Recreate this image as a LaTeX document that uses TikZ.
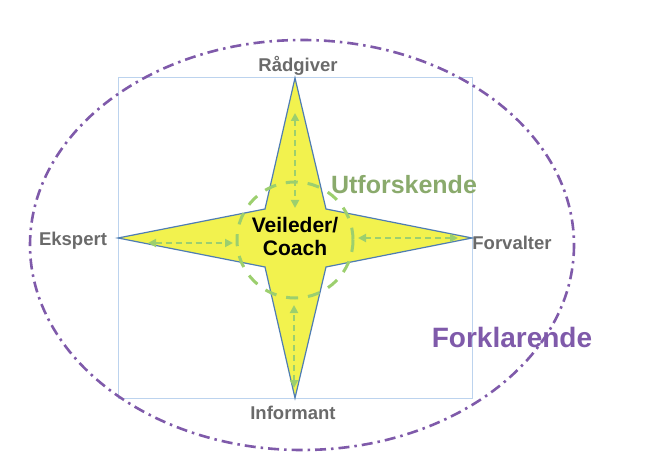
\documentclass[tikz,border=0pt]{standalone}
\usepackage{fontspec}
\setmainfont{Liberation Sans}
\usetikzlibrary{arrows.meta}
\definecolor{purp}{HTML}{7F5AAA}
\definecolor{yel}{HTML}{F2F24E}
\definecolor{starb}{HTML}{4F7DB3}
\definecolor{sqb}{HTML}{BCD3EE}
\definecolor{grn}{HTML}{9CCF6E}
\definecolor{utf}{HTML}{8AAA6C}
\definecolor{lbl}{HTML}{6A6A6A}
\begin{document}
\begin{tikzpicture}[x=1pt,y=-1pt,
  role/.style={font=\bfseries\fontsize{18.5}{21}\selectfont, text=lbl},
  garrow/.style={grn, line width=2pt, dash pattern=on 6pt off 4pt, {Triangle[length=8pt,width=8pt]}-{Triangle[length=8pt,width=8pt]}}]
\useasboundingbox (0,0) rectangle (650,470);
\draw[sqb, line width=1pt] (118,78) rectangle (472,398);
\draw[purp, line width=2.6pt, dash pattern=on 11pt off 5pt on 2.5pt off 5pt] (302,245) ellipse [x radius=272, y radius=205];
\coordinate (T) at (295,78); \coordinate (B) at (295,398);
\coordinate (L) at (118,238); \coordinate (R) at (472,238);
\draw[starb, fill=yel, line width=1.2pt] (T) -- (326,209) -- (R) -- (326,267) -- (B) -- (265,267) -- (L) -- (265,209) -- cycle;
\draw[grn, line width=3pt, dash pattern=on 12pt off 10pt] (295,240) circle [radius=58];
\draw[garrow] (295,113) -- (295,208);
\draw[garrow] (148,243) -- (233,243);
\draw[garrow] (458,238) -- (358,238);
\draw[garrow] (294,388) -- (294,305);
\node[role] (rad) at (298,66) {Rådgiver};
\node[role] (eks) at (73,241) {Ekspert};
\node[role] (forv) at (512,243) {Forvalter};
\node[role] (inf) at (293,413) {Informant};
\node[font=\bfseries\fontsize{21}{23}\selectfont, align=center] (vc) at (295,236) {Veileder/\\Coach};
\node[font=\bfseries\fontsize{25}{28}\selectfont, text=utf] (ut) at (404,185) {Utforskende};
\node[font=\bfseries\fontsize{28}{31}\selectfont, text=purp] (fk) at (512,337) {Forklarende};
\end{tikzpicture}
\end{document}
